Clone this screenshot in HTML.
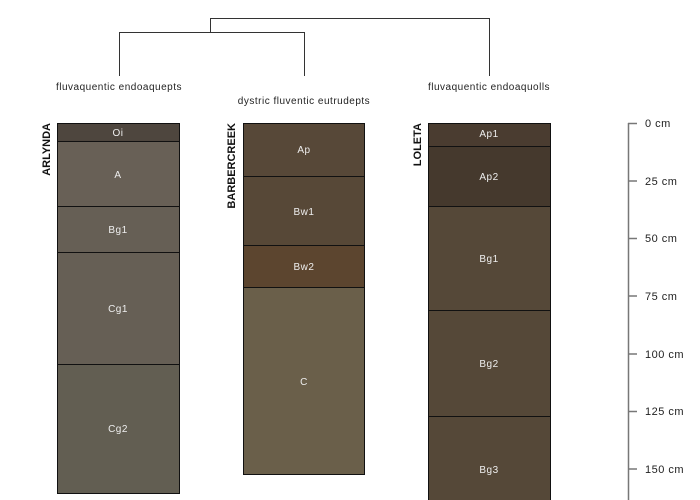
<!DOCTYPE html>
<html><head><meta charset="utf-8"><style>
html,body{margin:0;padding:0;background:#fff;}
svg{display:block;font-family:"Liberation Sans",sans-serif;}
</style></head><body>
<svg width="700" height="500" viewBox="0 0 700 500" xmlns="http://www.w3.org/2000/svg">
<g stroke="#333" stroke-width="1" fill="none">
<polyline points="210.5,32 210.5,18.5 489.5,18.5 489.5,76"/>
<polyline points="119.5,76 119.5,32.5 304.5,32.5 304.5,76"/>
</g>
<g font-size="10" fill="#222" text-anchor="middle" letter-spacing="0.5">
<text x="119" y="90">fluvaquentic endoaquepts</text>
<text x="304" y="104">dystric fluventic eutrudepts</text>
<text x="489" y="90">fluvaquentic endoaquolls</text>
</g>
<g stroke="#111" stroke-width="1">
<rect x="57.5" y="123.5" width="122" height="18" fill="#4e463e"/>
<rect x="57.5" y="141.5" width="122" height="65" fill="#686056"/>
<rect x="57.5" y="206.5" width="122" height="46" fill="#665f55"/>
<rect x="57.5" y="252.5" width="122" height="112" fill="#665f55"/>
<rect x="57.5" y="364.5" width="122" height="129" fill="#625e52"/>
<rect x="243.5" y="123.5" width="121" height="53" fill="#574838"/>
<rect x="243.5" y="176.5" width="121" height="69" fill="#574837"/>
<rect x="243.5" y="245.5" width="121" height="42" fill="#5c452f"/>
<rect x="243.5" y="287.5" width="121" height="187" fill="#6a5f4a"/>
<rect x="428.5" y="123.5" width="122" height="23" fill="#4a3c30"/>
<rect x="428.5" y="146.5" width="122" height="60" fill="#45392d"/>
<rect x="428.5" y="206.5" width="122" height="104" fill="#554838"/>
<rect x="428.5" y="310.5" width="122" height="106" fill="#554838"/>
<rect x="428.5" y="416.5" width="122" height="90" fill="#554838"/>
</g>
<g font-size="10" fill="#eee" text-anchor="middle" letter-spacing="0.5">
<text x="118" y="136">Oi</text>
<text x="118" y="178">A</text>
<text x="118" y="233">Bg1</text>
<text x="118" y="312">Cg1</text>
<text x="118" y="432">Cg2</text>
<text x="304" y="153">Ap</text>
<text x="304" y="215">Bw1</text>
<text x="304" y="270">Bw2</text>
<text x="304" y="385">C</text>
<text x="489" y="137">Ap1</text>
<text x="489" y="180">Ap2</text>
<text x="489" y="262">Bg1</text>
<text x="489" y="367">Bg2</text>
<text x="489" y="473">Bg3</text>
</g>
<g font-size="11" font-weight="bold" fill="#111">
<text transform="translate(50,123) rotate(-90)" text-anchor="end">ARLYNDA</text>
<text transform="translate(235,123) rotate(-90)" text-anchor="end">BARBERCREEK</text>
<text transform="translate(421,123) rotate(-90)" text-anchor="end">LOLETA</text>
</g>
<g stroke="#777" stroke-width="1.5">
<line x1="628.5" y1="123" x2="628.5" y2="500"/>
<line x1="628" y1="123.5" x2="637" y2="123.5"/>
<line x1="628" y1="181" x2="637" y2="181"/>
<line x1="628" y1="238.5" x2="637" y2="238.5"/>
<line x1="628" y1="296" x2="637" y2="296"/>
<line x1="628" y1="354" x2="637" y2="354"/>
<line x1="628" y1="411.5" x2="637" y2="411.5"/>
<line x1="628" y1="469" x2="637" y2="469"/>
</g>
<g font-size="11" fill="#222" letter-spacing="0.5">
<text x="645" y="127">0 cm</text>
<text x="645" y="185">25 cm</text>
<text x="645" y="242">50 cm</text>
<text x="645" y="300">75 cm</text>
<text x="645" y="358">100 cm</text>
<text x="645" y="415">125 cm</text>
<text x="645" y="473">150 cm</text>
</g>
</svg>
</body></html>
